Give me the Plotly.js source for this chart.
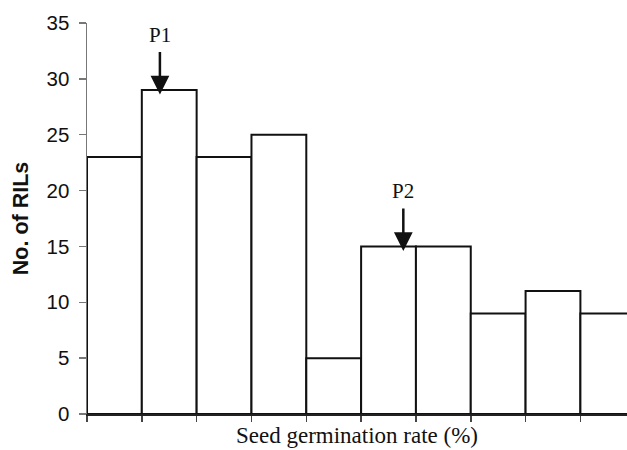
<!DOCTYPE html>
<html>
<head>
<meta charset="utf-8">
<script src="https://cdn.plot.ly/plotly-3.0.1.min.js"></script>
<style>html,body{margin:0;padding:0;background:#fff;}#chart{width:627px;height:450px;}</style>
</head>
<body>
<div id="chart"></div>
<script>
// Histogram of seed germination rate classes (no tick labels on x in the original)
const binCenters = [0.5, 1.5, 2.5, 3.5, 4.5, 5.5, 6.5, 7.5, 8.5, 9.5];
const counts = [23, 29, 23, 25, 5, 15, 15, 9, 11, 9];
const binEdges = [0, 1, 2, 3, 4, 5, 6, 7, 8, 9];
const yTicks = [0, 5, 10, 15, 20, 25, 30, 35];
const parentLabels = ["P1", "P2"];
const parentX = [1.33, 5.77];
const parentBin = [1, 5];

const trace = {
  type: 'bar',
  x: binCenters,
  y: counts,
  width: 1,
  marker: {color: '#ffffff', line: {color: '#111111', width: 2}},
  hoverinfo: 'skip'
};

const annotations = parentLabels.map((lab, i) => ({
  x: parentX[i], y: counts[parentBin[i]] - 0.4,
  xref: 'x', yref: 'y',
  text: lab,
  showarrow: true,
  ax: 0, ay: -60,
  arrowhead: 2, arrowsize: 1.5, arrowwidth: 2.5, arrowcolor: '#111',
  borderpad: 5,
  font: {family: 'Liberation Serif, Times New Roman, serif', size: 21, color: '#111'}
}));

const layout = {
  width: 627, height: 450,
  margin: {l: 87, r: 0, t: 23, b: 36},
  paper_bgcolor: '#fff', plot_bgcolor: '#fff',
  showlegend: false,
  bargap: 0,
  xaxis: {
    range: [0, 9.85],
    tickmode: 'array', tickvals: binEdges,
    showticklabels: false,
    ticks: 'outside', ticklen: 6, tickwidth: 1.5, tickcolor: '#444',
    showline: true, linecolor: '#222', linewidth: 2,
    showgrid: false, zeroline: false,
    automargin: false,
    title: {text: 'Seed germination rate (%)', standoff: 6,
      font: {family: 'Liberation Serif, Times New Roman, serif', size: 23, color: '#111'}}
  },
  yaxis: {
    range: [0, 35],
    tickmode: 'array', tickvals: yTicks,
    ticks: 'outside', ticklen: 7, tickwidth: 1.5, tickcolor: '#777',
    showline: true, linecolor: '#777', linewidth: 1.5,
    showgrid: false, zeroline: false,
    ticklabelstandoff: 5,
    automargin: false,
    tickfont: {family: 'Liberation Sans, Arial, sans-serif', size: 20.5, color: '#111'},
    title: {text: '<b>No. of RILs</b>', standoff: 12,
      font: {family: 'Liberation Sans, Arial, sans-serif', size: 21.5, color: '#111'}}
  },
  annotations: annotations
};

Plotly.newPlot('chart', [trace], layout, {displayModeBar: false, staticPlot: true});
</script>
</body>
</html>
